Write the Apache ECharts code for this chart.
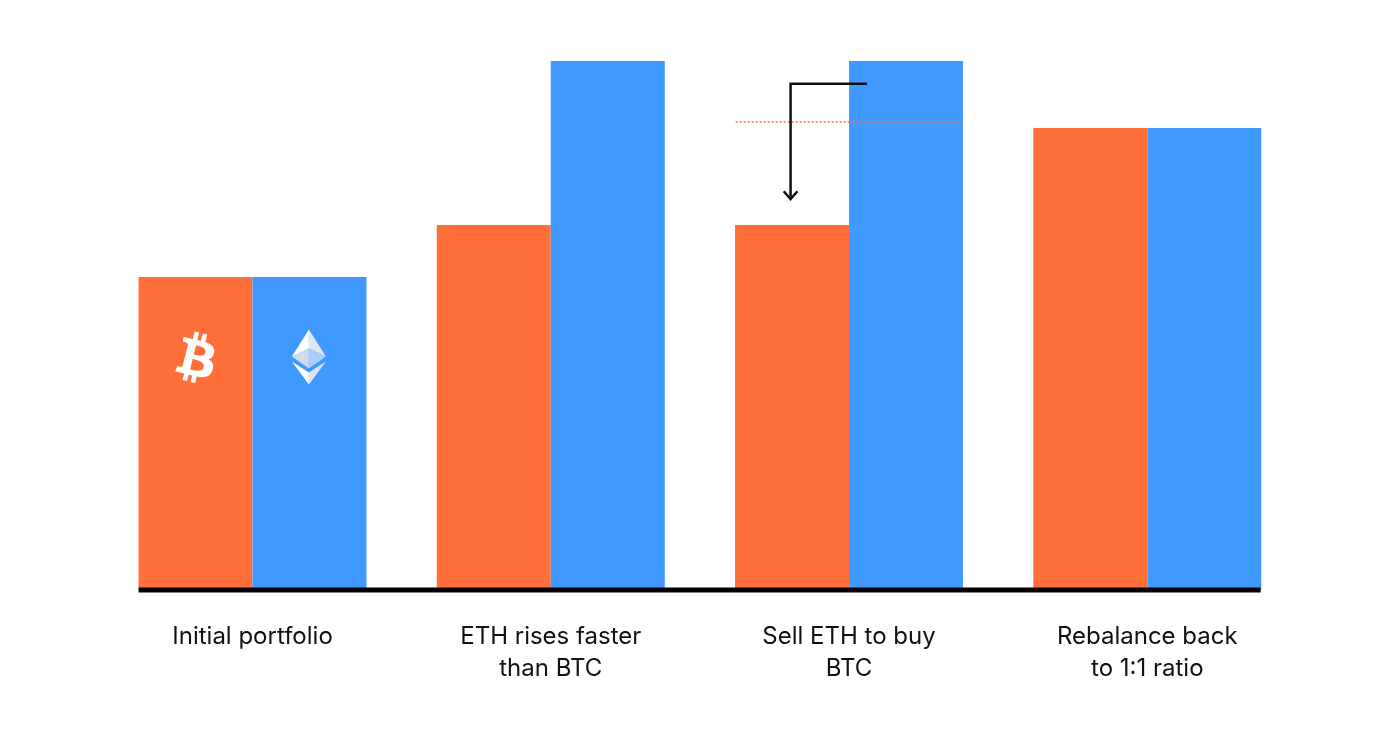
<!DOCTYPE html>
<html lang="en">
<head>
    <meta charset="utf-8">
    <title>Portfolio rebalancing</title>
    <script src="https://cdn.jsdelivr.net/npm/echarts@6/dist/echarts.min.js"></script>
    <style>
        html, body { margin: 0; padding: 0; background: #fff; }
        #main { width: 1400px; height: 744px; }
    </style>
</head>
<body>
<div id="main"></div>
<script type="text/javascript">
    var categories = ['Initial portfolio', 'ETH rises faster\nthan BTC', 'Sell ETH to buy\nBTC', 'Rebalance back\nto 1:1 ratio'];
    var btcValues = [100, 116.6, 116.6, 147.6];
    var ethValues = [100, 169, 169, 147.6];

    // annotations, x is counted in category bands (0 to 4), y in the same unit as the bars
    var baseline = [[0.118, 0], [3.88, 0]];
    var targetLine = [[2.12, 149.5], [2.884, 149.5]];
    var arrowLine = [[2.56, 161.7], [2.304, 161.7], [2.304, 124.9]];
    var arrowHead = [[2.281, 127.4], [2.304, 124.9], [2.327, 127.4]];
    var btcIconAt = [[0.314, 74.2]];
    var ethIconAt = [[0.689, 74.3]];

    // ethereum logo facets around its centre: points, fill
    var ethFacets = [
        [[[0, -28], [-17, -1], [0, -9]], '#ffffff'],
        [[[0, -28], [17, -1], [0, -9]], '#dfe5f0'],
        [[[-17, -1], [0, -9], [0, 11]], '#d3dbea'],
        [[[0, -9], [17, -1], [0, 11]], '#a9cdf8'],
        [[[-17, 4], [0, 15], [0, 27]], '#ffffff'],
        [[[17, 4], [0, 15], [0, 27]], '#dfe5f0']
    ];

    var btcPath = 'path://M310.204 242.638c27.73-14.18 45.377-39.39 41.28-81.3-5.358-57.351-52.458-76.573-114.85-81.929V0h-48.528v77.203c-12.605 0-25.525.315-38.444.63V0h-48.528v79.409c-17.842.539-38.622.276-97.37 0v51.678c38.314-.678 58.417-3.14 63.023 21.427v217.429c-2.925 19.492-18.524 16.685-53.255 16.071L3.765 443.68c88.481 0 97.37.315 97.37.315V512h48.528v-67.06c13.234.315 26.154.315 38.444.315V512h48.528v-68.005c81.299-4.412 135.647-24.894 142.895-101.467 5.671-61.446-23.32-88.862-69.326-99.89zM150.608 134.553c27.415 0 113.126-8.507 113.126 48.528 0 54.515-85.71 48.212-113.126 48.212v-96.74zm0 251.776V279.821c32.772 0 133.127-9.138 133.127 53.255-.001 60.186-100.355 53.253-133.127 53.253z';

    function lineSeries(data, color, width, type) {
        return {
            type: 'line',
            xAxisIndex: 1,
            data: data,
            symbol: 'none',
            clip: false,
            silent: true,
            z: 5,
            lineStyle: { color: color, width: width, type: type, join: 'miter', cap: 'butt' }
        };
    }

    var myChart = echarts.init(document.getElementById('main'));
    myChart.setOption({
        animation: false,
        backgroundColor: '#ffffff',
        grid: { left: 103.4, top: 61, width: 1193, height: 529 },
        xAxis: [
            {
                type: 'category',
                data: categories,
                axisLine: { show: false },
                axisTick: { show: false },
                axisLabel: {
                    color: '#111111',
                    fontFamily: 'Inter',
                    fontSize: 24,
                    lineHeight: 32,
                    margin: 31,
                    interval: 0
                }
            },
            { type: 'value', min: 0, max: 4, show: false }
        ],
        yAxis: { type: 'value', min: 0, max: 169, show: false },
        series: [
            {
                name: 'BTC',
                type: 'bar',
                data: btcValues,
                barWidth: 114,
                barGap: 0,
                itemStyle: { color: '#ff6f3a' }
            },
            {
                name: 'ETH',
                type: 'bar',
                data: ethValues,
                barWidth: 114,
                itemStyle: { color: '#4099ff' }
            },
            lineSeries(baseline, '#000000', 5, 'solid'),
            lineSeries(targetLine, '#ff6f3a', 1.5, [2, 2]),
            lineSeries(arrowLine, '#111111', 2.5, 'solid'),
            lineSeries(arrowHead, '#111111', 2.5, 'solid'),
            {
                type: 'scatter',
                xAxisIndex: 1,
                data: btcIconAt,
                symbol: btcPath,
                symbolSize: [36, 50],
                symbolRotate: -14,
                itemStyle: { color: '#ffffff', opacity: 1 },
                silent: true,
                z: 6
            },
            {
                type: 'custom',
                xAxisIndex: 1,
                data: ethIconAt,
                silent: true,
                z: 6,
                renderItem: function (params, api) {
                    var c = api.coord([api.value(0), api.value(1)]);
                    return {
                        type: 'group',
                        children: ethFacets.map(function (f) {
                            return {
                                type: 'polygon',
                                shape: { points: f[0].map(function (p) { return [c[0] + p[0], c[1] + p[1]]; }) },
                                style: { fill: f[1] }
                            };
                        })
                    };
                }
            }
        ]
    });
</script>
</body>
</html>
